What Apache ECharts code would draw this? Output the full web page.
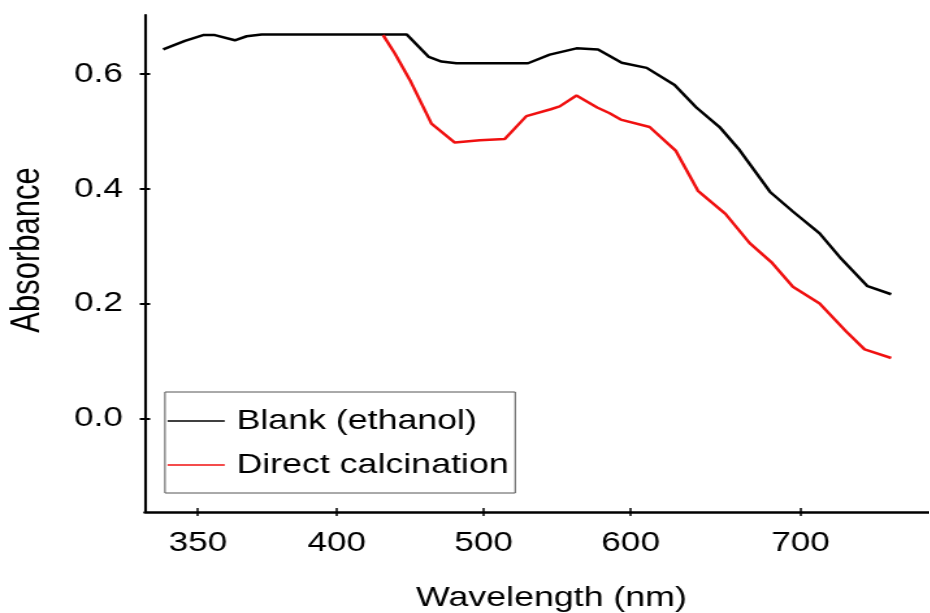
<!DOCTYPE html>
<html>
<head>
<meta charset="utf-8">
<script src="https://cdn.jsdelivr.net/npm/echarts@6/dist/echarts.min.js"></script>
<style>
  html, body { margin: 0; padding: 0; background: #fff; overflow: hidden; }
  #wrap { width: 930px; height: 613px; overflow: hidden; }
  #chart { width: 715.38px; height: 613px; transform: scaleX(1.3); transform-origin: 0 0; }
</style>
</head>
<body>
<div id="wrap"><div id="chart"></div></div>
<script>
// ---- data ----
const seriesNames = ['Blank (ethanol)', 'Direct calcination'];

const blankWavelength = [281.8, 296.6, 309.0, 317.0, 330.6, 338.6, 348.8, 447.6, 462.6, 471.2, 481.4, 530.1, 544.9, 563.1, 577.8, 593.9, 610.9, 629.9, 644.7, 660.5, 674.1, 694.9, 710.4, 728.6, 742.2, 761.2, 777.3];
const blankAbsorbance = [0.643, 0.658, 0.668, 0.668, 0.659, 0.666, 0.669, 0.669, 0.630, 0.622, 0.619, 0.619, 0.634, 0.645, 0.643, 0.620, 0.611, 0.581, 0.542, 0.508, 0.468, 0.395, 0.361, 0.323, 0.282, 0.231, 0.217];

const directWavelength = [431.5, 439.5, 449.7, 464.4, 480.3, 497.3, 514.3, 529.0, 545.6, 551.7, 563.1, 577.2, 585.7, 593.2, 612.9, 630.6, 645.8, 664.5, 681.0, 695.7, 710.4, 728.6, 746.7, 759.2, 777.3];
const directAbsorbance = [0.668, 0.636, 0.590, 0.514, 0.481, 0.485, 0.487, 0.527, 0.539, 0.544, 0.563, 0.542, 0.532, 0.521, 0.508, 0.467, 0.397, 0.357, 0.306, 0.273, 0.230, 0.201, 0.152, 0.121, 0.106];

// x tick positions on the axis scale, and the labels printed at them
const xTickValues = [305.4, 400, 500, 600, 715.6];
const xTickLabels = ['350', '400', '500', '600', '700'];
const yTickValues = [0, 0.2, 0.4, 0.6];
const yTickLabels = ['0.0', '0.2', '0.4', '0.6'];

// ---- chart ----
const FONT = '"Liberation Sans", Arial, Helvetica, sans-serif';
const chart = echarts.init(document.getElementById('chart'), null, { renderer: 'canvas' });

function pairs(xs, ys) { return xs.map((x, i) => [x, ys[i]]); }

const xMin = 269.4, xMax = 803.4, yMin = -0.162, yMax = 0.703;

const option = {
  backgroundColor: '#ffffff',
  animation: false,
  grid: { left: 111.5, right: 0, top: 15, bottom: 101, outerBoundsMode: 'none', containLabel: false },
  xAxis: [
    {
      type: 'value', min: xMin, max: xMax, position: 'bottom',
      splitLine: { show: false },
      axisLine: { show: true, onZero: false, lineStyle: { color: '#000', width: 2.6 } },
      axisTick: { show: true, inside: false, length: 4, customValues: xTickValues, lineStyle: { color: '#000', width: 1.5 } },
      axisLabel: {
        show: true, customValues: xTickValues, margin: 18,
        color: '#000', fontSize: 27, fontFamily: FONT,
        formatter: function (v) { const i = xTickValues.indexOf(v); return i >= 0 ? xTickLabels[i] : ''; }
      }
    },
    {
      type: 'value', min: xMin, max: xMax, position: 'bottom',
      splitLine: { show: false },
      axisLine: { show: false, onZero: false },
      axisTick: { show: true, inside: true, length: 4, customValues: xTickValues, lineStyle: { color: '#000', width: 1.5 } },
      axisLabel: { show: false }
    }
  ],
  yAxis: [
    {
      type: 'value', min: yMin, max: yMax, position: 'left',
      splitLine: { show: false },
      axisLine: { show: true, onZero: false, lineStyle: { color: '#000', width: 2.1 } },
      axisTick: { show: true, inside: false, length: 4, customValues: yTickValues, lineStyle: { color: '#000', width: 2 } },
      axisLabel: {
        show: true, customValues: yTickValues, margin: 17,
        color: '#000', fontSize: 27, fontFamily: FONT,
        formatter: function (v) { const i = yTickValues.indexOf(v); return i >= 0 ? yTickLabels[i] : ''; }
      }
    },
    {
      type: 'value', min: yMin, max: yMax, position: 'left',
      splitLine: { show: false },
      axisLine: { show: false, onZero: false },
      axisTick: { show: true, inside: true, length: 4, customValues: yTickValues, lineStyle: { color: '#000', width: 2 } },
      axisLabel: { show: false }
    }
  ],
  legend: {
    orient: 'vertical',
    left: 126.9, top: 392,
    padding: [15, 5, 14, 2],
    itemGap: 16,
    itemWidth: 44, itemHeight: 1.6,
    icon: 'rect',
    backgroundColor: '#fff',
    borderColor: '#555', borderWidth: 1, borderRadius: 0,
    data: seriesNames,
    textStyle: { color: '#000', fontSize: 27.5, fontFamily: FONT, padding: [0, 0, 0, 4] }
  },
  graphic: [
    {
      type: 'text', x: 424.2, y: 598,
      style: { text: 'Wavelength (nm)', fill: '#000', font: '27.5px ' + FONT, textAlign: 'center', textVerticalAlign: 'middle' }
    },
    {
      type: 'text', x: 21.5, y: 250, rotation: Math.PI / 2,
      style: { text: 'Absorbance', fill: '#000', font: '31px ' + FONT, textAlign: 'center', textVerticalAlign: 'middle' }
    }
  ],
  series: [
    {
      name: seriesNames[0], type: 'line', data: pairs(blankWavelength, blankAbsorbance),
      showSymbol: false, symbol: 'none', smooth: false,
      lineStyle: { color: '#000', width: 2.5 }, itemStyle: { color: '#000' }, z: 3
    },
    {
      name: seriesNames[1], type: 'line', data: pairs(directWavelength, directAbsorbance),
      showSymbol: false, symbol: 'none', smooth: false,
      lineStyle: { color: '#f01010', width: 2.5 }, itemStyle: { color: '#f01010' }, z: 4
    }
  ]
};
chart.setOption(option);
</script>
</body>
</html>
